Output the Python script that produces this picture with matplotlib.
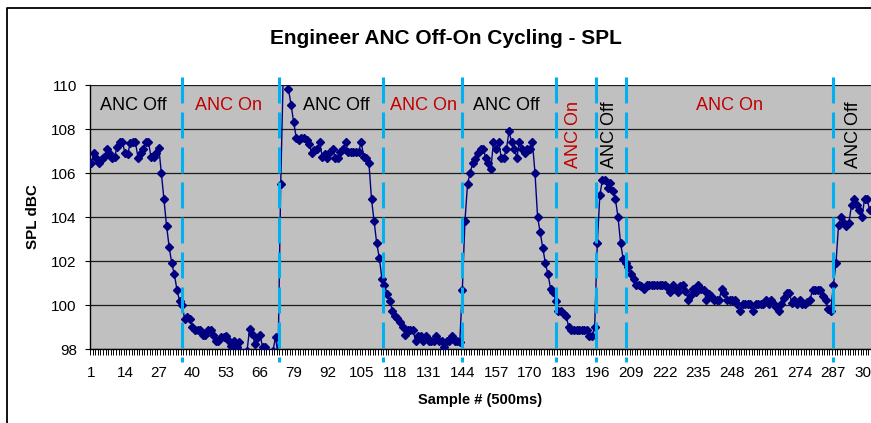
import numpy as np
import matplotlib.pyplot as plt
from matplotlib.lines import Line2D
from matplotlib.transforms import blended_transform_factory

plt.rcParams['font.family'] = ['Liberation Sans', 'DejaVu Sans']
plt.rcParams['lines.scale_dashes'] = False

# SPL readings, one per 500 ms sample (1..301)
spl = [
    106.45, 106.9, 106.7, 106.45, 106.65, 106.75, 107.1, 106.9, 106.7, 106.75,
    107.2, 107.4, 107.4, 106.9, 106.85, 107.35, 107.4, 107.4, 106.7, 106.9,
    107.1, 107.4, 107.4, 106.75, 106.75, 106.9, 107.15, 106.0, 104.8, 103.6,
    102.65, 101.9, 101.4, 100.7, 100.2, 100.0, 99.35, 99.45, 99.35, 99.0,
    98.85, 98.85, 98.85, 98.65, 98.65, 98.85, 98.85, 98.65, 98.35, 98.35,
    98.55, 98.55, 98.6, 98.35, 98.15, 98.35, 98.1, 98.3, 97.8, 97.6,
    97.9, 98.9, 98.7, 98.25, 98.5, 98.65, 98.1, 98.1, 97.8, 97.7,
    97.9, 98.55, 97.7, 105.5, 110.6, 110.4, 109.8, 109.1, 108.3, 107.6,
    107.5, 107.6, 107.6, 107.5, 107.3, 106.9, 107.05, 107.1, 107.4, 106.75,
    106.85, 106.7, 106.95, 107.1, 106.7, 106.7, 106.95, 107.1, 107.4, 106.95,
    106.95, 106.95, 106.95, 106.95, 107.4, 106.75, 106.7, 106.45, 104.8, 103.8,
    102.8, 102.15, 101.2, 100.9, 100.5, 100.2, 99.75, 99.5, 99.4, 99.25,
    99.0, 98.65, 98.85, 98.85, 98.85, 98.35, 98.6, 98.6, 98.35, 98.6,
    98.35, 98.35, 98.35, 98.6, 98.35, 98.35, 98.1, 98.35, 98.35, 98.6,
    98.35, 98.35, 98.3, 100.7, 103.8, 105.5, 106.0, 106.45, 106.65, 106.9,
    107.1, 107.1, 106.7, 106.45, 106.2, 107.4, 107.1, 107.4, 106.7, 106.7,
    107.1, 107.9, 107.4, 107.1, 106.7, 107.4, 107.1, 106.9, 107.1, 107.1,
    107.4, 106.0, 104.0, 103.3, 102.6, 101.9, 101.4, 100.75, 100.6, 100.2,
    99.75, 99.75, 99.6, 99.5, 99.0, 98.85, 98.85, 98.85, 98.85, 98.85,
    98.85, 98.85, 98.6, 98.6, 99.0, 102.8, 105.0, 105.7, 105.7, 105.3,
    105.55, 105.2, 104.8, 104.0, 102.8, 102.1, 101.9, 101.75, 101.4, 101.2,
    100.9, 100.9, 100.85, 100.75, 100.9, 100.9, 100.9, 100.9, 100.9, 100.9,
    100.9, 100.9, 100.8, 100.6, 100.9, 100.75, 100.6, 100.85, 100.9, 100.65,
    100.25, 100.45, 100.75, 100.6, 100.9, 100.75, 100.7, 100.25, 100.5, 100.4,
    100.25, 100.25, 100.25, 100.75, 100.55, 100.25, 100.25, 100.25, 100.25, 100.05,
    99.75, 100.05, 100.05, 100.05, 100.05, 99.75, 100.05, 100.05, 100.05, 100.05,
    100.25, 100.05, 100.25, 100.05, 99.9, 99.75, 100.05, 100.3, 100.55, 100.55,
    100.1, 100.25, 100.05, 100.25, 100.05, 100.05, 100.15, 100.25, 100.7, 100.7,
    100.7, 100.7, 100.4, 100.25, 99.8, 99.75, 100.9, 101.9, 103.65, 104.0,
    103.75, 103.6, 103.75, 104.55, 104.8, 104.55, 104.3, 104.0, 104.8, 104.8,
    104.3,
]
samples = np.arange(1, len(spl) + 1)
tick_samples = list(range(1, len(spl) + 1, 13))
y_ticks = [98, 100, 102, 104, 106, 108, 110]

# ANC switching instants (sample #) and phase labels
switch_at = [35.8, 73.5, 113.3, 144.0, 180.1, 195.4, 207.1, 286.7]
phase_text = ['ANC Off', 'ANC On', 'ANC Off', 'ANC On', 'ANC Off',
              'ANC On', 'ANC Off', 'ANC On', 'ANC Off']
phase_x = [17.3, 53.7, 95.5, 129.2, 160.8, 186.8, 200.9, 246.9, 294.6]
phase_vertical = [False, False, False, False, False, True, True, False, True]

W, H = 871, 423
fig = plt.figure(figsize=(W / 100, H / 100), dpi=100)
ax = fig.add_axes([90 / W, (H - 349) / H, (W - 90) / W, 264 / H])
ax.set_facecolor('#C0C0C0')

ax.set_xlim(0.5, len(spl) + 0.5)
ax.set_ylim(98, 110)
ax.set_yticks(y_ticks)
ax.yaxis.grid(True, color='#1a1a1a', lw=0.9)
ax.set_axisbelow(True)

ax.set_xticks(tick_samples)
ax.set_xticks(np.arange(0.5, len(spl) + 1, 1), minor=True)
ax.tick_params(axis='x', which='major', length=0, pad=12, labelsize=11)
ax.tick_params(axis='x', which='minor', length=4.5, width=0.7, color='black')
ax.tick_params(axis='y', length=3.5, width=0.8, pad=6, labelsize=11)

for side in ['top', 'right']:
    ax.spines[side].set_visible(False)
ax.spines['left'].set_linewidth(1.0)
ax.spines['bottom'].set_linewidth(1.0)

ax.plot(samples, spl, color='#000080', lw=1.0, marker='D', ms=4.2, zorder=3)

# dashed switch lines (run a little past the plot area like the original)
trans = blended_transform_factory(ax.transData, ax.transAxes)
for x in switch_at:
    ax.plot([x, x], [1.0303, -0.049], transform=trans, color='#00B0F0',
            lw=2.2, dashes=(18.7, 6.5), clip_on=False, zorder=4)

for txt, x, vert in zip(phase_text, phase_x, phase_vertical):
    col = '#C00000' if 'On' in txt else 'black'
    y = 107.75 if vert else 109.09
    ax.text(x, y, txt, color=col, fontsize=13, ha='center', va='center',
            rotation=90 if vert else 0, zorder=5)

fig.text(445.5 / W, 1 - 38 / H, 'Engineer ANC Off-On Cycling - SPL',
         ha='center', va='center', fontsize=15, fontweight='bold')
fig.text(33 / W, 1 - 217 / H, 'SPL dBC', rotation=90,
         ha='center', va='center', fontsize=11, fontweight='bold')
fig.text(480 / W, 1 - 400 / H, 'Sample # (500ms)',
         ha='center', va='center', fontsize=10.5, fontweight='bold')

# chart area border (left and top edges visible)
fig.add_artist(Line2D([7 / W, 7 / W, 1.0], [0.0, 1 - 8 / H, 1 - 8 / H],
                      transform=fig.transFigure, color='black', lw=1.3))

fig.savefig('out.png', dpi=100)
